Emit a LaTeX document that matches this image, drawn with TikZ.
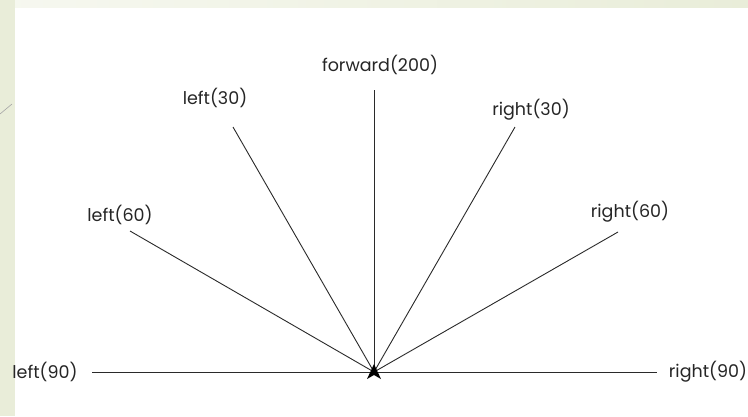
\documentclass[tikz,border=0pt]{standalone}
\usepackage{fontspec}
\setmainfont{Poppins}
\definecolor{stripgreen}{HTML}{E9EDD9}
\definecolor{linegray}{HTML}{2A2A2A}
\begin{document}
\begin{tikzpicture}[x=1pt,y=-1pt,
  ray/.style={draw=linegray,line width=0.9pt},
  lbl/.style={font=\fontsize{17.5}{20}\selectfont,text=black!85,inner sep=0pt}]
\useasboundingbox (0,0) rectangle (748,416);
% background strips
\fill[white] (0,0) rectangle (748,416);
\shade[left color=white!60!stripgreen,right color=stripgreen] (0,0) rectangle (748,7);
\fill[stripgreen] (0,0) rectangle (15,416);
\draw[gray!70,line width=0.6pt] (0,114) -- (12,104);
% center
\coordinate (c) at (374,372);
\coordinate (e90l) at (92,372);
\coordinate (e60l) at (130,231);
\coordinate (e30l) at (233,127);
\coordinate (e0) at (374,90);
\coordinate (e30r) at (515,127);
\coordinate (e60r) at (618,232);
\coordinate (e90r) at (657,372);
\draw[ray] (c) -- (e90l);
\draw[ray] (c) -- (e60l);
\draw[ray] (c) -- (e30l);
\draw[ray] (c) -- (e0);
\draw[ray] (c) -- (e30r);
\draw[ray] (c) -- (e60r);
\draw[ray] (c) -- (e90r);
% turtle
\fill[black] (374,364) -- (381,379) -- (374,375) -- (367,379) -- cycle;
% labels
\node[lbl] (lf) at (380,65) {forward(200)};
\node[lbl] (l30) at (215,98) {left(30)};
\node[lbl] (r30) at (531,110) {right(30)};
\node[lbl] (l60) at (120,215) {left(60)};
\node[lbl] (r60) at (630,212) {right(60)};
\node[lbl] (l90) at (45,372) {left(90)};
\node[lbl] (r90) at (708,372) {right(90)};
\end{tikzpicture}
\end{document}
